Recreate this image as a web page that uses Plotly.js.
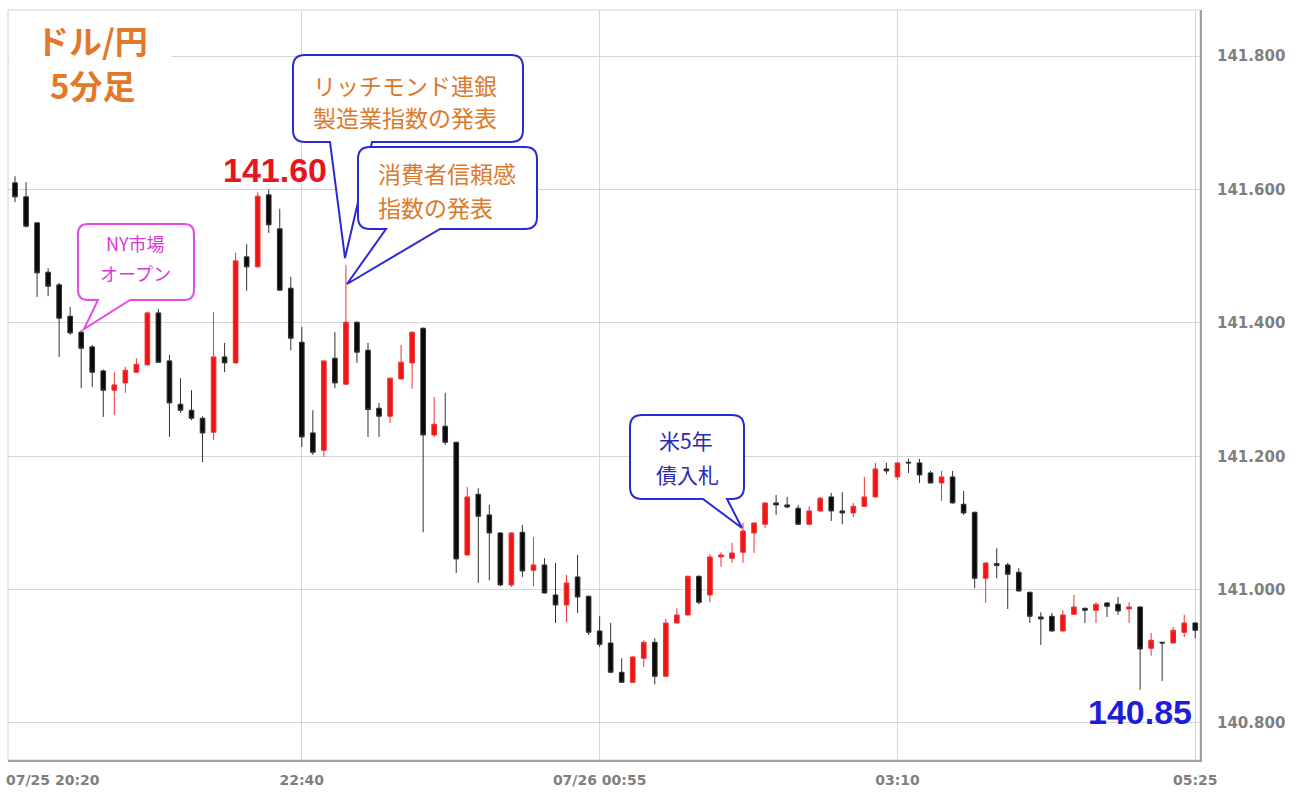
<!DOCTYPE html>
<html><head><meta charset="utf-8">
<script src="https://cdn.plot.ly/plotly-3.0.1.min.js"></script>
<style>body{margin:0;background:#fff}#chart{width:1301px;height:796px}</style>
</head><body><div id="chart"></div>
<script>
// 5-minute bars, 07/25 20:25 -> 07/26 05:25
const times = ['20:25','20:30','20:35','20:40','20:45','20:50','20:55','21:00','21:05','21:10','21:15','21:20','21:25','21:30','21:35','21:40','21:45','21:50','21:55',
'22:00','22:05','22:10','22:15','22:20','22:25','22:30','22:35','22:40','22:45','22:50','22:55','23:00','23:05','23:10','23:15','23:20','23:25','23:30','23:35','23:40','23:45','23:50','23:55',
'00:00','00:05','00:10','00:15','00:20','00:25','00:30','00:35','00:40','00:45','00:50','00:55','01:00','01:05','01:10','01:15','01:20','01:25','01:30','01:35','01:40','01:45','01:50','01:55',
'02:00','02:05','02:10','02:15','02:20','02:25','02:30','02:35','02:40','02:45','02:50','02:55','03:00','03:05','03:10','03:15','03:20','03:25','03:30','03:35','03:40','03:45','03:50','03:55',
'04:00','04:05','04:10','04:15','04:20','04:25','04:30','04:35','04:40','04:45','04:50','04:55','05:00','05:05','05:10','05:15','05:20','05:25'];
const openP = [141.632,141.610,141.589,141.550,141.476,141.457,141.410,141.386,141.364,141.328,141.299,141.310,141.326,141.337,141.415,141.343,141.278,141.269,141.257,
141.236,141.349,141.340,141.499,141.484,141.592,141.541,141.452,141.371,141.235,141.209,141.347,141.308,141.401,141.359,141.272,141.260,141.316,141.340,141.392,141.232,141.245,141.221,141.052,
141.143,141.112,141.085,141.007,141.086,141.029,141.037,140.992,140.977,141.019,140.990,140.938,140.920,140.876,140.861,140.897,140.921,140.870,140.950,140.962,141.020,140.992,141.049,141.047,
141.056,141.085,141.098,141.130,141.127,141.122,141.098,141.118,141.139,141.118,141.115,141.125,141.139,141.181,141.169,141.191,141.190,141.175,141.160,141.169,141.128,141.116,141.017,
141.039,141.037,141.026,140.996,140.959,140.960,140.938,140.963,140.972,140.969,140.980,140.978,140.971,140.974,140.912,140.921,140.920,140.936,140.950];
const highP = [141.640,141.620,141.611,141.551,141.482,141.460,141.424,141.389,141.367,141.330,141.326,141.334,141.347,141.417,141.421,141.352,141.317,141.299,141.260,
141.416,141.370,141.505,141.518,141.596,141.600,141.571,141.469,141.394,141.269,141.343,141.386,141.487,141.402,141.370,141.280,141.318,141.367,141.387,141.393,141.289,141.295,141.222,141.154,
141.152,141.127,141.086,141.086,141.097,141.079,141.047,141.040,141.022,141.052,140.991,140.960,140.950,140.897,140.900,140.924,140.927,140.956,140.972,141.021,141.021,141.053,141.056,141.070,
141.100,141.101,141.131,141.142,141.139,141.127,141.125,141.139,141.145,141.146,141.130,141.169,141.190,141.190,141.191,141.196,141.196,141.178,141.178,141.178,141.148,141.117,141.041,
141.062,141.040,141.032,140.997,140.966,140.965,140.969,140.992,140.973,140.981,140.981,140.989,140.981,140.975,140.935,140.922,140.944,140.962,140.951];
const lowP = [141.600,141.581,141.543,141.439,141.440,141.349,141.382,141.302,141.304,141.259,141.262,141.295,141.325,141.336,141.340,141.229,141.265,141.254,141.191,
141.224,141.326,141.339,141.448,141.483,141.535,141.448,141.359,141.214,141.202,141.199,141.302,141.307,141.340,141.229,141.229,141.250,141.315,141.301,141.086,141.229,141.217,141.025,141.051,
141.010,141.014,141.005,141.004,141.019,141.005,140.994,140.950,140.951,140.965,140.932,140.914,140.875,140.860,140.860,140.884,140.858,140.869,140.949,140.961,140.978,140.981,141.034,141.040,
141.040,141.055,141.092,141.112,141.122,141.097,141.097,141.117,141.103,141.098,141.109,141.124,141.138,141.173,141.164,141.175,141.160,141.159,141.133,141.129,141.112,141.002,140.980,
141.017,140.971,140.997,140.950,140.917,140.937,140.937,140.962,140.950,140.950,140.959,140.962,140.950,140.850,140.901,140.863,140.919,140.929,140.927];
const closeP = [141.605,141.589,141.545,141.475,141.455,141.407,141.385,141.362,141.326,141.299,141.307,141.329,141.338,141.415,141.341,141.280,141.269,141.257,141.235,
141.349,141.340,141.493,141.484,141.590,141.547,141.449,141.377,141.229,141.206,141.343,141.310,141.401,141.356,141.270,141.260,141.317,141.341,141.386,141.232,141.248,141.221,141.046,141.139,
141.110,141.085,141.007,141.085,141.028,141.037,140.995,140.977,141.010,140.989,140.936,140.918,140.876,140.861,140.899,140.921,140.870,140.950,140.962,141.020,140.981,141.049,141.052,141.055,
141.088,141.100,141.130,141.127,141.124,141.098,141.118,141.137,141.118,141.115,141.125,141.139,141.181,141.178,141.190,141.190,141.172,141.160,141.169,141.130,141.115,141.017,141.040,
141.036,141.023,140.998,140.960,140.956,140.938,140.962,140.974,140.969,140.978,140.975,140.968,140.974,140.911,140.924,140.920,140.939,140.950,140.939];

const tickTimes = ['22:40','00:55','03:10','05:25'];
const tickLabels = ['22:40','07/26 00:55','03:10','05:25'];
const firstTickLabel = '07/25 20:20';
const priceTicks = [140.8,141.0,141.2,141.4,141.6,141.8];
const titleLines = ['ドル/円','5分足'];
const highLabel = '141.60';
const lowLabel = '140.85';

// ---- layout geometry (pixels) ----
const L = 8, R = 1200, T = 10, B = 760;
const px = x => (x - L) / (R - L);
const py = y => (B - y) / (B - T);
const P = (x, y) => px(x).toFixed(5) + ',' + py(y).toFixed(5);

function bubble(x0, y0, x1, y1, r, bl, br, tx, ty) {
  return 'M' + P(x0 + r, y0) + ' L' + P(x1 - r, y0) + ' Q' + P(x1, y0) + ' ' + P(x1, y0 + r) +
    ' L' + P(x1, y1 - r) + ' Q' + P(x1, y1) + ' ' + P(x1 - r, y1) +
    ' L' + P(br, y1) + ' L' + P(tx, ty) + ' L' + P(bl, y1) +
    ' L' + P(x0 + r, y1) + ' Q' + P(x0, y1) + ' ' + P(x0, y1 - r) +
    ' L' + P(x0, y0 + r) + ' Q' + P(x0, y0) + ' ' + P(x0 + r, y0) + ' Z';
}
const blue = '#2a2ad2', magenta = '#e64be6', orange = '#dc7a2c';
function bubbleShape(path, color) {
  return {type: 'path', xref: 'paper', yref: 'paper', path: path, fillcolor: '#ffffff',
          line: {color: color, width: 2}, layer: 'above'};
}
const shapes = [
  {type: 'rect', xref: 'paper', yref: 'paper', x0: 0, x1: 1, y0: 0, y1: 1, line: {color: '#c6d4e2', width: 1}, layer: 'below'},
  {type: 'rect', xref: 'paper', yref: 'paper', x0: px(9), x1: px(172), y0: py(58), y1: py(11), fillcolor: '#ffffff', line: {width: 0}, layer: 'above'},
  bubbleShape(bubble(78, 224, 194, 300, 10, 98, 130, 84, 329), magenta),
  bubbleShape(bubble(293, 55, 523, 142, 12, 330, 372, 345, 258), blue),
  bubbleShape(bubble(358, 147, 537, 229, 12, 386, 440, 347, 284), blue),
  bubbleShape(bubble(630, 415, 744, 499, 12, 703, 727, 742, 528), blue)
];

const jp = 'Noto Sans CJK JP, sans-serif';
function txt(text, x, y, size, color, opts) {
  return Object.assign({xref: 'paper', yref: 'paper', x: px(x), y: py(y), text: text, showarrow: false,
    xanchor: 'center', yanchor: 'middle', font: {family: jp, size: size, color: color}}, opts || {});
}
const annotations = [
  txt(titleLines[0], 92, 40, 33, '#e3782a', {font: {family: jp, size: 33, color: '#e3782a', weight: 700}}),
  txt(titleLines[1], 92, 85, 33, '#e3782a', {font: {family: jp, size: 33, color: '#e3782a', weight: 700}}),
  txt(highLabel, 275, 170, 34, '#e8141e', {font: {family: 'Liberation Sans, Arial', size: 34, color: '#e8141e', weight: 700}}),
  txt(lowLabel, 1140, 712, 34, '#1e1ed8', {font: {family: 'Liberation Sans, Arial', size: 34, color: '#1e1ed8', weight: 700}}),
  txt('NY市場', 135, 243, 18, '#d838d8'),
  txt('オープン', 135, 273, 18, '#d838d8'),
  txt('リッチモンド連銀', 311, 85, 23, orange, {xanchor: 'left'}),
  txt('製造業指数の発表', 311, 117, 23, orange, {xanchor: 'left'}),
  txt('消費者信頼感', 376, 173, 23, orange, {xanchor: 'left'}),
  txt('指数の発表', 376, 207, 23, orange, {xanchor: 'left'}),
  txt('米5年', 686, 440, 21, '#2b2bb8'),
  txt('債入札', 687, 474, 21, '#2b2bb8'),
  txt(firstTickLabel, 102, 780, 14, '#7f7f7f', {xanchor: 'right', font: {family: 'DejaVu Sans', size: 14, color: '#7f7f7f', weight: 700}})
];

const trace = {
  type: 'candlestick', x: times, open: openP, high: highP, low: lowP, close: closeP,
  increasing: {line: {color: '#f03030', width: 1}, fillcolor: '#f21414'},
  decreasing: {line: {color: '#303030', width: 1}, fillcolor: '#0a0a0a'},
  whiskerwidth: 0, hoverinfo: 'none', showlegend: false
};

const layout = {
  width: 1301, height: 796,
  margin: {l: L, r: 1301 - R, t: T, b: 796 - B},
  paper_bgcolor: '#ffffff', plot_bgcolor: '#ffffff',
  boxgap: 0.4,
  showlegend: false,
  xaxis: {
    type: 'category', categoryorder: 'array', categoryarray: times,
    range: [0.363, 108.43], rangeslider: {visible: false},
    tickmode: 'array', tickvals: tickTimes, ticktext: tickLabels,
    showgrid: true, gridcolor: '#d6d6d6', gridwidth: 1,
    showline: true, linecolor: '#a0a0a0', linewidth: 2,
    ticks: '', ticklabelstandoff: 6,
    tickfont: {family: 'DejaVu Sans', size: 14, color: '#7f7f7f', weight: 700}
  },
  yaxis: {
    side: 'right', range: [140.7445, 141.8692],
    tickmode: 'array', tickvals: priceTicks, ticktext: priceTicks.map(v => v.toFixed(3)),
    showgrid: true, gridcolor: '#d6d6d6', gridwidth: 1,
    showline: true, linecolor: '#a0a0a0', linewidth: 2,
    ticks: '', ticklabelstandoff: 12, zeroline: false,
    tickfont: {family: 'DejaVu Sans', size: 15, color: '#7f7f7f', weight: 700}
  },
  shapes: shapes,
  annotations: annotations
};

Plotly.newPlot('chart', [trace], layout, {staticPlot: true, displayModeBar: false});
</script>
</body></html>
